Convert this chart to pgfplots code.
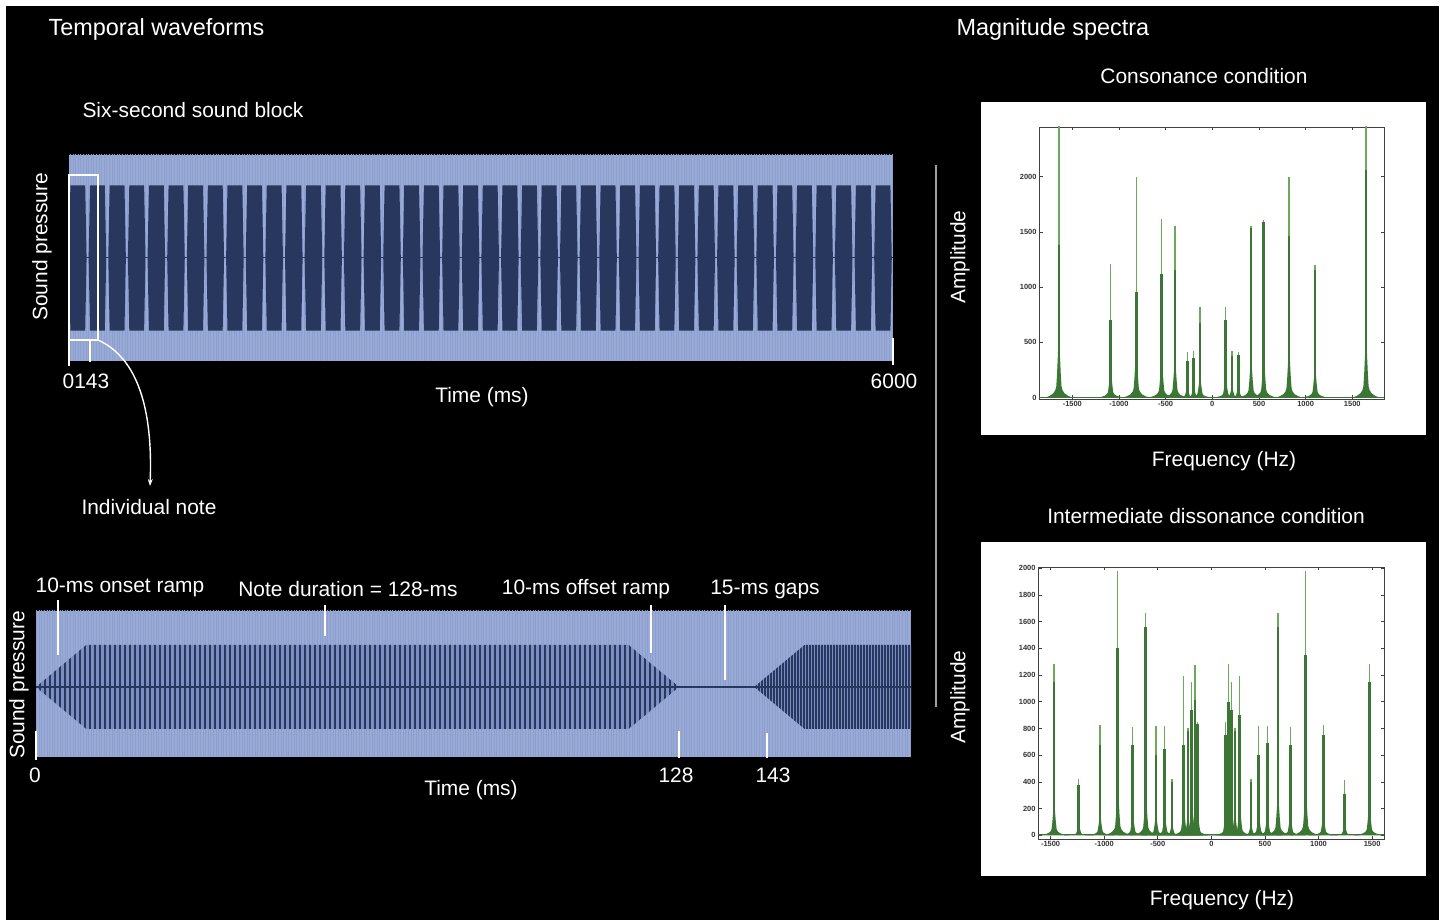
\documentclass[border=0pt]{standalone}
\usepackage{pgfplots}
\pgfplotsset{compat=1.18}
\usepackage{pgfplotstable}
\usepackage{fontspec}
\setmainfont{Liberation Sans}
\usetikzlibrary{patterns.meta, arrows.meta}

\definecolor{lb}{HTML}{98AAD5}
\definecolor{lbs}{HTML}{8D9FCC}
\definecolor{lbd}{HTML}{7B8EC2}
\definecolor{nv}{HTML}{27375E}
\definecolor{lg}{HTML}{6AAA5A}
\definecolor{dg}{HTML}{3C7634}
\definecolor{sep}{HTML}{A0A0A0}

\newcommand\lab{\fontsize{21}{24}\selectfont}
\newcommand\ttl{\fontsize{23.5}{26}\selectfont}

\pgfdeclareplotmark{skirt}{%
  \pgfpathmoveto{\pgfqpoint{-15bp}{0bp}}%
  \pgfpathcurveto{\pgfqpoint{-6bp}{1.5bp}}{\pgfqpoint{-3.5bp}{5bp}}{\pgfqpoint{-2.6bp}{10bp}}%
  \pgfpathlineto{\pgfqpoint{-1.8bp}{22bp}}%
  \pgfpathlineto{\pgfqpoint{-1.1bp}{36bp}}%
  \pgfpathlineto{\pgfqpoint{-0.5bp}{50bp}}%
  \pgfpathlineto{\pgfqpoint{0.5bp}{50bp}}%
  \pgfpathlineto{\pgfqpoint{1.1bp}{36bp}}%
  \pgfpathlineto{\pgfqpoint{1.8bp}{22bp}}%
  \pgfpathlineto{\pgfqpoint{2.6bp}{10bp}}%
  \pgfpathcurveto{\pgfqpoint{3.5bp}{5bp}}{\pgfqpoint{6bp}{1.5bp}}{\pgfqpoint{15bp}{0bp}}%
  \pgfpathclose
  \pgfusepathqfill}

% envelope of the 42 notes of the six-second block (ms, relative amplitude)
\pgfplotstableread[row sep=\\]{t a\\
0 0\\10 1\\118 1\\128 0\\
143 0\\153 1\\261 1\\271 0\\
286 0\\296 1\\404 1\\414 0\\
429 0\\439 1\\547 1\\557 0\\
572 0\\582 1\\690 1\\700 0\\
715 0\\725 1\\833 1\\843 0\\
858 0\\868 1\\976 1\\986 0\\
1001 0\\1011 1\\1119 1\\1129 0\\
1144 0\\1154 1\\1262 1\\1272 0\\
1287 0\\1297 1\\1405 1\\1415 0\\
1430 0\\1440 1\\1548 1\\1558 0\\
1573 0\\1583 1\\1691 1\\1701 0\\
1716 0\\1726 1\\1834 1\\1844 0\\
1859 0\\1869 1\\1977 1\\1987 0\\
2002 0\\2012 1\\2120 1\\2130 0\\
2145 0\\2155 1\\2263 1\\2273 0\\
2288 0\\2298 1\\2406 1\\2416 0\\
2431 0\\2441 1\\2549 1\\2559 0\\
2574 0\\2584 1\\2692 1\\2702 0\\
2717 0\\2727 1\\2835 1\\2845 0\\
2860 0\\2870 1\\2978 1\\2988 0\\
3003 0\\3013 1\\3121 1\\3131 0\\
3146 0\\3156 1\\3264 1\\3274 0\\
3289 0\\3299 1\\3407 1\\3417 0\\
3432 0\\3442 1\\3550 1\\3560 0\\
3575 0\\3585 1\\3693 1\\3703 0\\
3718 0\\3728 1\\3836 1\\3846 0\\
3861 0\\3871 1\\3979 1\\3989 0\\
4004 0\\4014 1\\4122 1\\4132 0\\
4147 0\\4157 1\\4265 1\\4275 0\\
4290 0\\4300 1\\4408 1\\4418 0\\
4433 0\\4443 1\\4551 1\\4561 0\\
4576 0\\4586 1\\4694 1\\4704 0\\
4719 0\\4729 1\\4837 1\\4847 0\\
4862 0\\4872 1\\4980 1\\4990 0\\
5005 0\\5015 1\\5123 1\\5133 0\\
5148 0\\5158 1\\5266 1\\5276 0\\
5291 0\\5301 1\\5409 1\\5419 0\\
5434 0\\5444 1\\5552 1\\5562 0\\
5577 0\\5587 1\\5695 1\\5705 0\\
5720 0\\5730 1\\5838 1\\5848 0\\
5863 0\\5873 1\\5981 1\\5991 0\\
}\blockenv

\pgfplotstableread{
t a
0 0
10 1
118 1
128 0
}\noteA
\pgfplotstableread{
t a
143 0
153 1
175 1
}\noteB

% consonance spectrum: frequency, peak, secondary peak, base
\pgfplotstableread{
f h h2 z
-1644 2500 1380 0
-1090 1207 700 0
-815 2000 960 0
-543 1617 1120 0
-400 1557 1160 0
-268 416 330 0
-200 420 360 0
-132 824 680 0
143 824 700 0
211 420 380 0
279 415 390 0
415 1555 1540 0
551 1610 1590 0
822 2000 1460 0
1101 1200 1155 0
1647 2500 2060 0
}\cons

% intermediate dissonance spectrum
\pgfplotstableread{
f h h2 z
-1467 1285 1150 0
-1237 420 380 0
-1038 828 680 0
-873 1978 1400 0
-733 808 680 0
-612 1665 1560 0
-516 820 600 0
-435 820 650 0
-367 420 400 0
-258 1190 680 0
-217 802 780 0
-183 1152 940 0
-152 1277 1010 0
-127 845 830 0
134 845 750 0
159 1282 1000 0
190 1152 940 0
221 802 780 0
265 1190 900 0
370 420 400 0
442 820 600 0
523 820 690 0
622 1665 1560 0
737 808 680 0
880 1978 1350 0
1045 828 750 0
1244 415 310 0
1474 1285 1150 0
}\diss

\pgfplotsset{
  wave/.style={scale only axis, axis line style={draw=none}, ticks=none, clip=true,
    axis background/.style={fill=lb, postaction={pattern={Lines[angle=90,distance=2.6bp,line width=0.5bp]}, pattern color=lbs}}},
  spec/.style={scale only axis, width=345bp, height=272bp,
    axis line style={draw=black!75, line width=0.7bp},
    tick style={black!75, line width=0.6bp}, major tick length=3.5bp, tick align=inside,
    ticklabel style={font=\fontsize{7.5}{8}\selectfont\bfseries, text=black!80},
    /pgf/number format/assume math mode=true, /pgf/number format/1000 sep={},
    xticklabel style={yshift=1bp}, yticklabel style={xshift=1bp},
    axis background/.style={fill=white}},
  skirts/.style={scatter, only marks, mark=skirt, point meta=\thisrow{h},
    scatter/use mapped color={draw=none, fill=dg},
    visualization depends on={\thisrow{h} \as \hh},
    scatter/@pre marker code/.append style={/tikz/yscale=\hh/2200}},
}

\begin{document}
\begin{tikzpicture}[x=1bp, y=1bp]
\useasboundingbox (0,0) rectangle (1443,920);
\fill[white] (0,0) rectangle (1443,920);
\fill[black] (6,0) rectangle (1439,914);

% ---------- titles ----------
\node[white, anchor=west, font=\ttl] at (45,891) {Temporal waveforms};
\node[white, anchor=west, font=\ttl] at (953,891) {Magnitude spectra};

% ---------- six-second block ----------
\node[white, anchor=west, font=\lab] at (79,810) {Six-second sound block};
\begin{axis}[wave, at={(69bp,559bp)}, anchor=south west, width=824bp, height=206bp,
  xmin=0, xmax=6000, ymin=-1.42, ymax=1.42]
  \addplot[fill=nv, draw=none] table[x=t, y=a] {\blockenv} \closedcycle;
  \addplot[fill=nv, draw=none] table[x=t, y expr=-\thisrow{a}] {\blockenv} \closedcycle;
  \addplot[nv, line width=1bp] coordinates {(0,0) (6000,0)};
\end{axis}
\node[white, rotate=90, font=\lab] at (42,673) {Sound pressure};
\draw[white, line width=1.5bp] (69,745) rectangle (98,580);
\draw[white, line width=1.5bp] (69,580) -- (69,554);
\draw[white, line width=1.5bp] (90,580) -- (90,558);
\draw[white, line width=1.5bp] (893,582) -- (893,555);
\node[white, font=\lab] at (86,539) {0143};
\node[white, font=\lab] at (894,539) {6000};
\node[white, font=\lab] at (482,523) {Time (ms)};
\draw[white, line width=1.4bp, -{Stealth[length=7bp,width=5bp]}] (98,580) .. controls (138,562) and (153,510) .. (150,434);
\node[white, anchor=west, font=\lab] at (78,413) {Individual note};

% ---------- individual note ----------
\node[white, font=\lab] at (120,333) {10-ms onset ramp};
\node[white, font=\lab] at (348,331) {Note duration = 128-ms};
\node[white, font=\lab] at (586,331) {10-ms offset ramp};
\node[white, font=\lab] at (765,331) {15-ms gaps};
\begin{axis}[wave, at={(36bp,163bp)}, anchor=south west, width=875bp, height=146bp,
  xmin=0, xmax=174.2, ymin=-1.67, ymax=1.81]
  \addplot[fill=lbd, draw=none, postaction={pattern={Lines[angle=90,distance=5bp,line width=1.8bp]}, pattern color=nv}] table[x=t, y=a] {\noteA} \closedcycle;
  \addplot[fill=lbd, draw=none, postaction={pattern={Lines[angle=90,distance=5bp,line width=1.8bp]}, pattern color=nv}] table[x=t, y expr=-\thisrow{a}] {\noteA} \closedcycle;
  \addplot[fill=lbd, draw=none, postaction={pattern={Lines[angle=90,distance=3bp,line width=1.4bp]}, pattern color=nv}] table[x=t, y=a] {\noteB} \closedcycle;
  \addplot[fill=lbd, draw=none, postaction={pattern={Lines[angle=90,distance=3bp,line width=1.4bp]}, pattern color=nv}] table[x=t, y expr=-\thisrow{a}] {\noteB} \closedcycle;
  \addplot[nv, line width=1.5bp] coordinates {(0,0) (174.2,0)};
\end{axis}
\node[white, rotate=90, font=\lab] at (19,235) {Sound pressure};
\draw[white, line width=1.5bp] (58,320) -- (58,265);
\draw[white, line width=1.5bp] (325,315) -- (325,284);
\draw[white, line width=1.5bp] (651,315) -- (651,267);
\draw[white, line width=1.5bp] (725,315) -- (725,240);
\draw[white, line width=1.5bp] (36,189) -- (36,160);
\draw[white, line width=1.5bp] (679,189) -- (679,162);
\draw[white, line width=1.5bp] (767,187) -- (767,162);
\node[white, font=\lab] at (35,145) {0};
\node[white, font=\lab] at (676,145) {128};
\node[white, font=\lab] at (773,145) {143};
\node[white, font=\lab] at (471,130) {Time (ms)};

% ---------- separator ----------
\draw[sep, line width=1.5bp] (936,755) -- (936,213);

% ---------- consonance spectrum ----------
\node[white, font=\lab] at (1204,844) {Consonance condition};
\fill[white] (981,485) rectangle (1426,818);
\begin{axis}[spec, at={(1039bp,521bp)}, anchor=south west,
  xmin=-1857, xmax=1840, ymin=-12, ymax=2450,
  xtick={-1500,-1000,-500,0,500,1000,1500}, ytick={0,500,1000,1500,2000}]
  \addplot[dg, line width=0.8bp] coordinates {(-1857,6) (1840,6)};
  \addplot[ycomb, lg, line width=1.4bp] table[x=f, y=h] {\cons};
  \addplot[ycomb, dg, line width=2.6bp] table[x=f, y=h2] {\cons};
  \addplot[skirts] table[x=f, y=z] {\cons};
\end{axis}
\node[white, rotate=90, font=\lab] at (960,663) {Amplitude};
\node[white, font=\lab] at (1224,459) {Frequency (Hz)};

% ---------- intermediate dissonance spectrum ----------
\node[white, font=\lab] at (1206,404) {Intermediate dissonance condition};
\fill[white] (981,44) rectangle (1426,378);
\begin{axis}[spec, at={(1038bp,81bp)}, anchor=south west, width=346bp,
  xmin=-1617, xmax=1611, ymin=-28, ymax=2010,
  xtick={-1500,-1000,-500,0,500,1000,1500}, ytick={0,200,...,2000}]
  \addplot[dg, line width=0.8bp] coordinates {(-1617,8) (1611,8)};
  \addplot[ycomb, lg, line width=1.4bp] table[x=f, y=h] {\diss};
  \addplot[ycomb, dg, line width=2.6bp] table[x=f, y=h2] {\diss};
  \addplot[skirts] table[x=f, y=z] {\diss};
\end{axis}
\node[white, rotate=90, font=\lab] at (960,223) {Amplitude};
\node[white, font=\lab] at (1222,20) {Frequency (Hz)};
\end{tikzpicture}
\end{document}
